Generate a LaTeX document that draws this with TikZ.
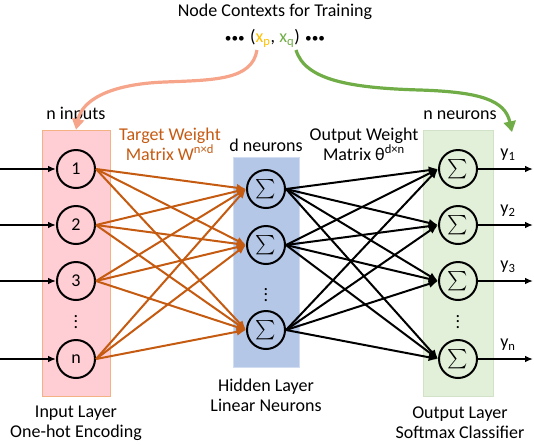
\documentclass[tikz,border=0pt]{standalone}
\usepackage{fontspec}
\usepackage{amsmath}
\usepackage{amssymb}
\setmainfont{Carlito}
\usetikzlibrary{arrows.meta,positioning}

\definecolor{inFill}{RGB}{255,205,212}
\definecolor{inLine}{RGB}{244,177,131}
\definecolor{hidFill}{RGB}{180,199,231}
\definecolor{outFill}{RGB}{226,240,217}
\definecolor{outLine}{RGB}{210,226,200}
\definecolor{wOrange}{RGB}{197,90,17}
\definecolor{ctxSalmon}{RGB}{246,165,138}
\definecolor{ctxYellow}{RGB}{255,192,0}
\definecolor{ctxGreen}{RGB}{112,173,71}

\newcommand{\sumsign}{{\fontsize{14.5}{15}\selectfont$\textstyle\sum$}}

\tikzset{
  txt/.style={inner sep=1pt, align=center, font=\fontsize{13.5}{15}\selectfont},
  neuron/.style={circle, draw=black, line width=1.5pt, minimum size=28.5pt, inner sep=0pt,
                 font=\fontsize{13.5}{15}\selectfont},
  layer/.style={rectangle, inner sep=0pt, line width=0.75pt},
  wire/.style={line width=1.5pt, -{Latex[length=7pt,width=6pt]}},
  ctxarrow/.style={line width=2.4pt, -{Triangle[length=8pt,width=9pt]}},
}

\begin{document}
\begin{tikzpicture}[x=0.75pt, y=-0.75pt]
    \useasboundingbox (0,0) rectangle (534,444);

    % layer boxes (sizes in pt)
    \node[layer, fill=inFill, draw=inLine, minimum width=51pt, minimum height=200pt] (inbox) at (76,263.5) {};
    \node[layer, fill=hidFill, draw=hidFill!60!white, minimum width=50pt, minimum height=158pt] (hidbox) at (266.5,262.5) {};
    \node[layer, fill=outFill, draw=outLine, minimum width=52.5pt, minimum height=200pt] (outbox) at (458,263.5) {};

    % neurons
    \foreach \name/\lab/\y in {i1/1/169, i2/2/225, i3/3/281, in/n/359}
        \node[neuron] (\name) at (76,\y) {\lab};
    \foreach \name/\y in {h1/189, h2/245, hd/330}
        \node[neuron] (\name) at (266,\y) {\sumsign};
    \foreach \name/\y in {o1/169, o2/225, o3/281, on/359}
        \node[neuron] (\name) at (458,\y) {\sumsign};

    \node[txt, inner sep=0pt] (idots) at (76,318) {$\vdots$};
    \node[txt, inner sep=0pt] (hdots) at (266,291) {$\vdots$};
    \node[txt, inner sep=0pt] (odots) at (458,318) {$\vdots$};

    % input and output wires
    \foreach \name/\y in {i1/169, i2/225, i3/281, in/359} {
        \coordinate (s\name) at (0,\y);
        \draw[wire, line width=1.2pt, -{Latex[length=6pt,width=5pt]}] (s\name) -- (\name.west);
    }
    \foreach \name/\y/\lab in {o1/169/1, o2/225/2, o3/281/3, on/359/n} {
        \coordinate (e\name) at (533,\y);
        \draw[wire, line width=1.2pt, -{Latex[length=6pt,width=5pt]}] (\name.east) -- (e\name);
        \node[txt] at (508,\y-14) {y\textsubscript{\lab}};
    }

    % weights
    \foreach \a in {i1,i2,i3,in}
        \foreach \b in {h1,h2,hd}
            \draw[wire, draw=wOrange, fill=wOrange] (\a.east) -- (\b.west);
    \foreach \a in {h1,h2,hd}
        \foreach \b in {o1,o2,o3,on}
            \draw[wire] (\a.east) -- (\b.west);

    % labels
    \node[txt] (title) at (275,12) {Node Contexts for Training};
    \node[txt] (ctx) at (275,38) {{\fontsize{10}{12}\selectfont •••}\hspace{4pt}(\textcolor{ctxYellow}{x\textsubscript{p}},
        \textcolor{ctxGreen}{x\textsubscript{q}})\hspace{4pt}{\fontsize{10}{12}\selectfont •••}};
    \coordinate (pfoot) at (257,50);
    \coordinate (qfoot) at (296,50);

    \node[txt] at (76,115) {n inputs};
    \node[txt] at (266,145) {d neurons};
    \node[txt] at (460,115) {n neurons};
    \node[txt, text=wOrange] at (170,144) {Target Weight\\Matrix W\textsuperscript{n×d}};
    \node[txt] at (364,144) {Output Weight\\Matrix θ\textsuperscript{d×n}};
    \node[txt] at (76,423) {Input Layer\\One-hot Encoding};
    \node[txt] at (266,395) {Hidden Layer\\Linear Neurons};
    \node[txt] at (460,423) {Output Layer\\Softmax Classifier};

    % context arrows
    \coordinate (qend) at (512,132);
    \draw[ctxarrow, ctxSalmon] (pfoot) .. controls (252,80) and (215,80) .. (165,82)
        .. controls (110,84) and (82,100) .. (inbox.north);
    \draw[ctxarrow, ctxGreen] (qfoot) .. controls (305,80) and (350,88) .. (420,90)
        .. controls (480,92) and (505,100) .. (qend);

\end{tikzpicture}
\end{document}
